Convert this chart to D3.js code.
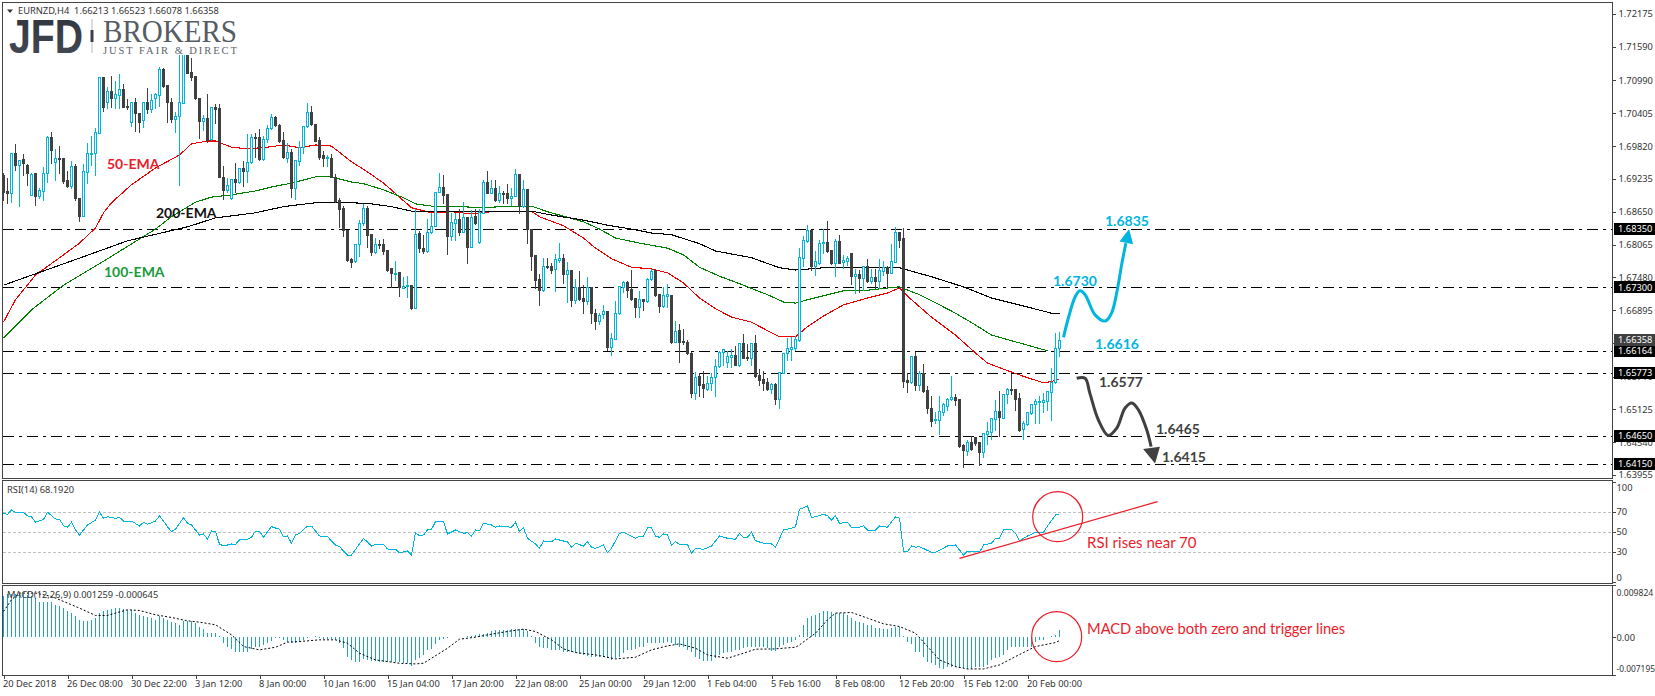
<!DOCTYPE html>
<html><head><meta charset="utf-8">
<script src="https://cdn.jsdelivr.net/npm/d3@7"></script>
<style>html,body{margin:0;padding:0;background:#fff;overflow:hidden}svg{display:block}</style>
</head><body><svg id="c" width="1655" height="696"></svg>
<script>
const open=[1.6931,1.6902,1.6898,1.6970,1.6948,1.6959,1.6948,1.6895,1.6934,1.6893,
1.6902,1.6934,1.6998,1.6954,1.6961,1.6961,1.6922,1.6911,1.6947,1.6889,
1.6857,1.6936,1.6968,1.6970,1.7005,1.7105,1.7061,1.7080,1.7068,1.7073,
1.7084,1.7054,1.7025,1.7061,1.7041,1.7029,1.7061,1.7048,1.7068,1.7073,
1.7119,1.7091,1.7061,1.7030,1.7036,1.7059,1.7153,1.7114,1.7107,1.7068,
1.7027,1.7032,1.6995,1.7052,1.7050,1.6927,1.6904,1.6889,1.6923,1.6918,
1.6943,1.6938,1.6954,1.6998,1.6998,1.6959,1.6995,1.7014,1.7034,1.7020,
1.6993,1.6961,1.6971,1.6907,1.6955,1.6980,1.7018,1.7043,1.7021,1.6993,
1.6966,1.6961,1.6961,1.6927,1.6886,1.6872,1.6832,1.6781,1.6777,1.6808,
1.6845,1.6872,1.6825,1.6793,1.6808,1.6808,1.6797,1.6765,1.6754,1.6758,
1.6729,1.6733,1.6734,1.6693,1.6827,1.6800,1.6795,1.6829,1.6840,1.6900,
1.6909,1.6897,1.6822,1.6845,1.6852,1.6829,1.6856,1.6802,1.6857,1.6811,
1.6863,1.6918,1.6898,1.6907,1.6886,1.6898,1.6898,1.6889,1.6893,1.6932,
1.6875,1.6905,1.6834,1.6788,1.6745,1.6725,1.6768,1.6768,1.6763,1.6779,
1.6783,1.6754,1.6761,1.6708,1.6731,1.6711,1.6706,1.6731,1.6684,1.6670,
1.6683,1.6688,1.6624,1.6638,1.6684,1.6731,1.6740,1.6727,1.6711,1.6695,
1.6709,1.6706,1.6745,1.6761,1.6718,1.6697,1.6715,1.6717,1.6633,1.6654,
1.6635,1.6633,1.6613,1.6542,1.6572,1.6558,1.6549,1.6560,1.6570,1.6590,
1.6615,1.6597,1.6606,1.6610,1.6592,1.6631,1.6606,1.6604,1.6631,1.6574,
1.6567,1.6561,1.6549,1.6558,1.6531,1.6577,1.6613,1.6620,1.6622,1.6636,
1.6783,1.6813,1.6832,1.6768,1.6774,1.6809,1.6811,1.6797,1.6774,1.6813,
1.6775,1.6777,1.6791,1.6750,1.6754,1.6747,1.6768,1.6741,1.6749,1.6741,
1.6759,1.6766,1.6756,1.6775,1.6829,1.6818,1.6565,1.6561,1.6608,1.6556,
1.6577,1.6547,1.6515,1.6494,1.6494,1.6508,1.6519,1.6531,1.6535,1.6531,
1.6449,1.6438,1.6454,1.6463,1.6454,1.6437,1.6469,1.6472,1.6495,1.6510,
1.6497,1.6540,1.6549,1.6549,1.6533,1.6478,1.6487,1.6506,1.6522,1.6526,
1.6526,1.6528,1.6544,1.6561,1.66213];
const high=[1.6936,1.6927,1.6972,1.6988,1.6959,1.6970,1.6952,1.6936,1.6936,1.6909,
1.6947,1.7002,1.7009,1.6979,1.6984,1.6961,1.6939,1.6957,1.6952,1.6891,
1.6952,1.6989,1.7002,1.7016,1.7107,1.7107,1.7089,1.7109,1.7100,1.7112,
1.7095,1.7068,1.7061,1.7070,1.7043,1.7061,1.7087,1.7077,1.7079,1.7125,
1.7123,1.7091,1.7070,1.7045,1.7146,1.7162,1.7157,1.7141,1.7109,1.7068,
1.7039,1.7077,1.7052,1.7059,1.7059,1.6948,1.6927,1.6925,1.6954,1.6943,
1.6957,1.7005,1.7005,1.7007,1.7014,1.7002,1.7021,1.7041,1.7037,1.7023,
1.7009,1.6989,1.6979,1.6959,1.6993,1.7020,1.7061,1.7055,1.7023,1.7000,
1.6975,1.6968,1.6970,1.6934,1.6891,1.6877,1.6832,1.6784,1.6808,1.6852,
1.6881,1.6877,1.6827,1.6820,1.6816,1.6818,1.6798,1.6766,1.6779,1.6759,
1.6750,1.6752,1.6734,1.6872,1.6832,1.6825,1.6854,1.6865,1.6900,1.6936,
1.6932,1.6898,1.6865,1.6865,1.6872,1.6884,1.6857,1.6870,1.6872,1.6872,
1.6923,1.6939,1.6923,1.6923,1.6913,1.6904,1.6916,1.6909,1.6943,1.6934,
1.6923,1.6907,1.6836,1.6788,1.6756,1.6784,1.6784,1.6775,1.6791,1.6811,
1.6791,1.6777,1.6763,1.6747,1.6761,1.6736,1.6750,1.6733,1.6693,1.6686,
1.6700,1.6690,1.6651,1.6708,1.6734,1.6743,1.6743,1.6763,1.6713,1.6725,
1.6711,1.6749,1.6765,1.6765,1.6718,1.6733,1.6738,1.6718,1.6672,1.6667,
1.6658,1.6638,1.6617,1.6581,1.6579,1.6583,1.6574,1.6579,1.6604,1.6619,
1.6622,1.6619,1.6622,1.6627,1.6633,1.6649,1.6631,1.6631,1.6647,1.6586,
1.6583,1.6570,1.6561,1.6561,1.6579,1.6615,1.6642,1.6643,1.6645,1.6802,
1.6824,1.6843,1.6832,1.6797,1.6816,1.6836,1.6850,1.6798,1.6818,1.6825,
1.6790,1.6788,1.6793,1.6765,1.6763,1.6770,1.6783,1.6765,1.6765,1.6783,
1.6779,1.6770,1.6809,1.6840,1.6829,1.6838,1.6579,1.6609,1.6617,1.6583,
1.6595,1.6556,1.6538,1.6510,1.6538,1.6526,1.6535,1.6574,1.6542,1.6533,
1.6453,1.6460,1.6467,1.6465,1.6454,1.6472,1.6492,1.6499,1.6531,1.6547,
1.6542,1.6552,1.6577,1.6549,1.6544,1.6494,1.6510,1.6524,1.6533,1.6538,
1.6544,1.6547,1.6588,1.6651,1.66523];
const low=[1.6886,1.6881,1.6882,1.6939,1.6875,1.6931,1.6913,1.6895,1.6877,1.6889,
1.6886,1.6918,1.6952,1.6922,1.6934,1.6916,1.6909,1.6907,1.6886,1.6848,
1.6857,1.6916,1.6948,1.6931,1.7005,1.7045,1.7050,1.7052,1.7050,1.7050,
1.7052,1.7048,1.7018,1.7009,1.7007,1.7016,1.7041,1.7043,1.7050,1.7054,
1.7087,1.7025,1.7025,1.7007,1.6913,1.7059,1.7112,1.7100,1.7066,1.6996,
1.7011,1.6989,1.6993,1.7023,1.6927,1.6888,1.6900,1.6888,1.6900,1.6916,
1.6911,1.6918,1.6952,1.6963,1.6957,1.6957,1.6989,1.7012,1.7018,1.6989,
1.6961,1.6954,1.6891,1.6888,1.6948,1.6970,1.7016,1.7020,1.6991,1.6959,
1.6947,1.6947,1.6927,1.6882,1.6838,1.6822,1.6777,1.6766,1.6775,1.6786,
1.6841,1.6802,1.6788,1.6791,1.6800,1.6790,1.6759,1.6731,1.6743,1.6715,
1.6729,1.6713,1.6692,1.6693,1.6793,1.6791,1.6793,1.6827,1.6840,1.6900,
1.6881,1.6790,1.6815,1.6815,1.6824,1.6829,1.6774,1.6802,1.6843,1.6809,
1.6863,1.6898,1.6898,1.6884,1.6882,1.6881,1.6881,1.6877,1.6893,1.6863,
1.6873,1.6809,1.6761,1.6729,1.6699,1.6724,1.6765,1.6756,1.6724,1.6775,
1.6738,1.6704,1.6697,1.6702,1.6708,1.6684,1.6701,1.6667,1.6656,1.6665,
1.6675,1.6619,1.6610,1.6638,1.6683,1.6722,1.6713,1.6708,1.6677,1.6677,
1.6690,1.6704,1.6743,1.6715,1.6686,1.6695,1.6695,1.6631,1.6633,1.6597,
1.6629,1.6611,1.6535,1.6531,1.6536,1.6535,1.6547,1.6547,1.6536,1.6588,
1.6592,1.6588,1.6588,1.6592,1.6590,1.6604,1.6601,1.6592,1.6570,1.6556,
1.6547,1.6547,1.6542,1.6522,1.6515,1.6577,1.6601,1.6601,1.6619,1.6635,
1.6768,1.6811,1.6761,1.6752,1.6772,1.6791,1.6793,1.6772,1.6750,1.6774,
1.6765,1.6770,1.6736,1.6720,1.6722,1.6725,1.6740,1.6738,1.6729,1.6729,
1.6752,1.6729,1.6756,1.6775,1.6802,1.6552,1.6544,1.6560,1.6547,1.6547,
1.6544,1.6506,1.6483,1.6488,1.6469,1.6503,1.6511,1.6529,1.6520,1.6446,
1.6410,1.6431,1.6440,1.6449,1.6413,1.6428,1.6451,1.6460,1.6476,1.6465,
1.6497,1.6524,1.6540,1.6511,1.6474,1.6460,1.6485,1.6504,1.6488,1.6488,
1.6508,1.6511,1.6494,1.6560,1.66078];
const close=[1.6900,1.6898,1.6970,1.6948,1.6957,1.6952,1.6934,1.6932,1.6893,1.6904,
1.6934,1.6998,1.6975,1.6961,1.6959,1.6920,1.6911,1.6947,1.6889,1.6857,
1.6938,1.6970,1.6970,1.7007,1.7105,1.7052,1.7080,1.7068,1.7075,1.7084,
1.7052,1.7052,1.7061,1.7041,1.7025,1.7061,1.7048,1.7064,1.7075,1.7119,
1.7089,1.7061,1.7030,1.7036,1.7061,1.7162,1.7112,1.7105,1.7068,1.7027,
1.7032,1.6993,1.7052,1.7048,1.6927,1.6904,1.6913,1.6923,1.6918,1.6943,
1.6938,1.6954,1.6998,1.6996,1.6959,1.6995,1.7014,1.7034,1.7020,1.6991,
1.6963,1.6971,1.6907,1.6957,1.6980,1.7018,1.7043,1.7021,1.6991,1.6963,
1.6961,1.6963,1.6927,1.6884,1.6870,1.6832,1.6779,1.6775,1.6808,1.6845,
1.6872,1.6824,1.6793,1.6808,1.6806,1.6795,1.6761,1.6756,1.6756,1.6731,
1.6733,1.6734,1.6693,1.6825,1.6800,1.6795,1.6829,1.6840,1.6900,1.6909,
1.6895,1.6822,1.6847,1.6852,1.6829,1.6856,1.6802,1.6856,1.6845,1.6865,
1.6918,1.6898,1.6907,1.6886,1.6898,1.6897,1.6889,1.6893,1.6932,1.6875,
1.6905,1.6834,1.6786,1.6743,1.6725,1.6768,1.6766,1.6761,1.6781,1.6783,
1.6754,1.6761,1.6708,1.6731,1.6709,1.6706,1.6731,1.6684,1.6670,1.6681,
1.6688,1.6624,1.6640,1.6684,1.6733,1.6740,1.6725,1.6709,1.6695,1.6709,
1.6706,1.6745,1.6759,1.6717,1.6697,1.6717,1.6718,1.6633,1.6652,1.6633,
1.6633,1.6613,1.6542,1.6570,1.6556,1.6551,1.6560,1.6570,1.6590,1.6615,
1.6620,1.6608,1.6610,1.6592,1.6631,1.6604,1.6604,1.6631,1.6572,1.6565,
1.6560,1.6549,1.6558,1.6531,1.6579,1.6613,1.6622,1.6624,1.6638,1.6784,
1.6815,1.6832,1.6768,1.6777,1.6809,1.6811,1.6795,1.6774,1.6813,1.6774,
1.6779,1.6783,1.6750,1.6754,1.6747,1.6768,1.6741,1.6749,1.6741,1.6761,
1.6766,1.6756,1.6777,1.6829,1.6815,1.6563,1.6561,1.6608,1.6556,1.6577,
1.6545,1.6515,1.6492,1.6496,1.6510,1.6522,1.6531,1.6535,1.6529,1.6447,
1.6440,1.6454,1.6442,1.6453,1.6437,1.6470,1.6474,1.6497,1.6510,1.6499,
1.6540,1.6549,1.6547,1.6531,1.6476,1.6488,1.6508,1.6522,1.6528,1.6528,
1.6529,1.6545,1.6561,1.6622,1.66358];

const ema50Bars=[0,3,8,15,19,23,25,27,32,38,44,47,51,53,57,61,66,70,74,78,82,87,91,95,99,102,107,112,117,122,128,132,134,140,145,148,152,157,162,166,170,174,178,182,187,192,194,198,201,205,210,216,221,224,227,232,238,243,246,252,256,260,262,264];
const ema50=[1.6668,1.6708,1.6752,1.6788,1.6809,1.6836,1.6863,1.6881,1.6913,1.6943,1.6966,1.6986,1.6991,1.6991,1.6980,1.6977,1.6980,1.6984,1.6979,1.6984,1.6982,1.6954,1.6936,1.6916,1.6891,1.6872,1.6863,1.6865,1.6861,1.6865,1.6866,1.6866,1.6856,1.6840,1.6818,1.6800,1.6781,1.6766,1.6763,1.6756,1.6738,1.6711,1.6692,1.6677,1.6668,1.6649,1.6642,1.6642,1.6660,1.6679,1.6699,1.6711,1.6720,1.6729,1.6708,1.6677,1.6645,1.6613,1.6595,1.6579,1.6569,1.6560,1.6562,1.6567];
const ema100Bars=[0,7,15,26,38,42,48,52,57,63,67,72,78,82,87,90,95,100,103,107,112,117,122,127,132,136,140,145,149,153,159,166,170,174,179,185,191,195,198,201,206,210,216,221,224,229,234,238,243,247,253,261];
const ema100=[1.6640,1.6690,1.6734,1.6781,1.6834,1.6856,1.6882,1.6891,1.6895,1.6902,1.6909,1.6916,1.6927,1.6927,1.6918,1.6915,1.6904,1.6890,1.6879,1.6875,1.6875,1.6873,1.6873,1.6875,1.6875,1.6865,1.6857,1.6847,1.6834,1.6818,1.6809,1.6800,1.6788,1.6766,1.6750,1.6734,1.6717,1.6704,1.6702,1.6708,1.6717,1.6724,1.6725,1.6729,1.6731,1.6717,1.6699,1.6684,1.6663,1.6645,1.6633,1.6617];
const ema200Bars=[0,15,31,46,53,63,70,78,82,87,92,97,102,112,124,132,137,145,151,157,162,167,174,178,187,194,198,205,216,224,232,240,247,256,262,264];
const ema200=[1.6734,1.6772,1.6813,1.6838,1.6854,1.6863,1.6874,1.6881,1.6882,1.6881,1.6879,1.6874,1.6866,1.6866,1.6865,1.6866,1.6859,1.6850,1.6841,1.6834,1.6827,1.6824,1.6808,1.6795,1.6783,1.6765,1.6761,1.6765,1.6765,1.6765,1.6749,1.6731,1.6711,1.6695,1.6684,1.6683];

const rsiBars=[0,1,2,3,5,6,7,8,10,11,13,14,15,16,17,18,19,21,23,24,25,26,28,29,30,32,34,35,36,38,39,41,42,43,45,46,47,49,50,51,52,53,54,55,57,58,59,61,62,63,64,65,66,67,69,70,71,72,73,74,76,77,79,81,83,84,86,87,90,92,93,95,96,98,99,
101,102,103,104,105,106,107,108,110,111,113,114,115,116,117,118,119,120,122,123,124,127,128,129,130,131,133,134,135,137,138,140,141,142,143,145,146,147,148,150,151,152,154,155,158,159,160,161,162,163,164,165,166,167,168,169,171,172,173,175,177,179,181,183,184,185,186,187,188,190,192,193,195,197,198,199,
201,202,203,205,206,207,208,209,211,212,214,215,216,218,219,221,223,224,225,226,227,228,229,232,233,236,238,240,241,243,244,245,247,248,249,250,252,253,254,256,258,260,261,263,264];
const rsiValues=[68.7,67.7,72,69.7,69.7,66,65.3,59.7,62.7,69.7,63,62.7,56.3,54.7,59.7,52,47,57,62,69.7,63.7,65.3,63.7,64.7,61,61,56,59.7,57.7,61,66.3,55.3,50.3,52.7,64.3,58.7,57,47,48,42.7,51,50.3,38,36,38,37.7,42,42.7,44.7,51,51,44.7,50.3,55.3,52.7,45.3,46,38.7,47,48.7,56,56,46,45.3,37,35.3,27,27,43.7,36,37.7,37.7,33,32.7,29.3,
31,27,49.3,46.3,47,52,52.7,60.3,60.3,48,52,50.3,48.7,49.3,46,52,51.3,58.7,57,54.7,56,54.7,59.7,50.3,54.3,43.7,38,33.7,41,40.3,43,41,40.3,34.7,38.7,36,40.3,34.7,33.7,37,29.3,33.7,48.7,49.7,43.7,46,46,54.3,54.3,46,44.7,48,47,37,40.3,37.7,37.7,28.7,33.7,32.7,36,46,43.7,42.7,48.7,44.7,44.7,49.7,41.3,38.7,38,34.7,52,53.7,55.3,72.7,
76,64.3,65.3,67.7,66.3,62,66.3,58.7,59.7,54.7,54.7,56.3,52,52,56,54.7,65.3,63.7,31,30.3,36,34.7,35.3,29.7,29.7,36,37,27,31,31,29.7,37,38.7,43.7,43.7,52,52.7,48.7,41.3,46,49.7,49.7,56,67,68.19];
const rsiLevels=[70,50,30];

const macdHist=[.0078,.00818,.00818,.00818,.00818,.00818,.00799,.0078,.00736,.0066,
.0066,.00667,.00667,.0061,.00579,.00547,.00484,.00453,.0039,.00315,
.00308,.00308,.00327,.00359,.00453,.00484,.00516,.00528,.00547,.00554,
.00528,.00503,.00503,.00453,.00409,.00396,.00371,.00359,.00327,.0039,
.00359,.00327,.00283,.00264,.00233,.00296,.00308,.00296,.00264,.00189,
.00151,.00088,.00088,.00075,.00013,-.00113,-.00176,-.0022,-.0027,-.0027,
-.0027,-.0027,-.0022,-.00176,-.00176,-.00145,-.00113,-.00069,-.00019,-.00019,
-.0005,-.00082,-.00113,-.00113,-.00082,-.0005,-.00006,.00006,.00013,-.00019,
-.00031,-.00038,-.00038,-.0005,-.00113,-.00208,-.00365,-.00428,-.00459,-.00459,
-.00415,-.00428,-.0044,-.0044,-.00459,-.00459,-.00459,-.00459,-.00472,-.00472,
-.00491,-.00491,-.00535,-.00428,-.00396,-.00333,-.00239,-.0022,-.00126,-.0005,
-.00038,-.00006,0,0,0,.00006,.00013,.00025,.00038,.00057,
.00063,.00088,.00107,.00138,.00138,.00138,.00138,.00151,.00157,.00157,
.00151,.00107,.00013,-.00113,-.00176,-.00208,-.00208,-.00239,-.00239,-.00239,
-.0027,-.0027,-.0027,-.00302,-.00315,-.00333,-.00346,-.00365,-.00365,-.00365,
-.00365,-.00396,-.00428,-.00396,-.00365,-.00302,-.00239,-.00239,-.00226,-.00189,
-.00176,-.00113,-.00113,-.00113,-.00101,-.00101,-.00082,-.00113,-.00145,-.00176,
-.00176,-.00239,-.0027,-.00365,-.00415,-.0044,-.0044,-.0044,-.00396,-.00333,
-.00302,-.0027,-.0027,-.00239,-.00239,-.00208,-.00176,-.00176,-.00189,-.00176,
-.00176,-.00208,-.00252,-.00252,-.00189,-.00145,-.00113,-.00082,-.0005,.00044,
.0022,.00359,.0039,.00409,.00453,.00484,.00497,.00472,.00453,.00453,
.00453,.00421,.00359,.00296,.00283,.00264,.00233,.0022,.00182,.0017,
.00157,.00157,.00182,.00201,.00201,.00013,-.00082,-.00126,-.0027,-.0027,
-.00365,-.00459,-.00491,-.00522,-.00585,-.00598,-.00554,-.00554,-.00554,-.00585,
-.00585,-.00598,-.00598,-.00554,-.00554,-.00554,-.00522,-.00428,-.00396,-.00365,
-.00333,-.00239,-.00176,-.00176,-.00176,-.00176,-.00176,-.00176,-.00082,-.0005,
-.0005,0,.00013,.00044,.00126];
const signalBars=[0,2,4,8,12,16,19,23,26,28,31,34,38,42,46,49,53,57,60,64,68,71,74,79,83,86,89,93,96,99,103,105,107,111,114,118,121,126,130,133,137,140,143,148,153,158,162,166,169,173,176,181,185,188,193,198,199,203,206,208,212,216,220,224,228,231,234,238,241,245,249,253,258,263,264];
const signalValues=[.00484,.00704,.0083,.0083,.00767,.00642,.00547,.00409,.00409,.00453,.00516,.00503,.00421,.00371,.00308,.00283,.00233,.00044,-.00176,-.00239,-.00189,-.00094,-.00082,-.0005,-.0005,-.00113,-.00302,-.00428,-.00459,-.00491,-.00503,-.00491,-.00396,-.00208,-.00038,0,.00044,.00107,.00151,.00107,-.0005,-.0022,-.00289,-.00333,-.00409,-.00377,-.00239,-.00164,-.00126,-.00208,-.00333,-.00396,-.00302,-.00226,-.0022,-.00189,-.00145,.00075,.00327,.00453,.00465,.00359,.00252,.00201,.00075,-.00176,-.00428,-.00554,-.00598,-.00598,-.00522,-.00365,-.00176,-.00101,-.000645];

const levels=[1.6835,1.6730,1.66164,1.65773,1.6465,1.6415];
const priceTicks=[1.72175,1.7159,1.7099,1.70405,1.6982,1.69235,1.6865,1.68065,1.6748,1.66895,1.6631,1.6571,1.65125,1.6454,1.63955];
const lastPrice=1.66358;
const timeBars=[0,16,32,48,64,80,96,112,128,144,160,176,192,208,224,240,256];
const timeLabels=["20 Dec 2018","26 Dec 08:00","30 Dec 22:00","3 Jan 12:00","8 Jan 00:00","10 Jan 16:00","15 Jan 04:00","17 Jan 20:00","22 Jan 08:00","25 Jan 00:00","29 Jan 12:00","1 Feb 04:00","5 Feb 16:00","8 Feb 08:00","12 Feb 20:00","15 Feb 12:00","20 Feb 00:00"];

const upArrowBars=[265,266.2,267.9,269.1,270.4,272.9,275.4,277,278.3,279.6,280.6];
const upArrowPrices=[1.6641,1.6675,1.6713,1.6724,1.6717,1.6681,1.6670,1.6684,1.6720,1.6773,1.6809];
const upHeadBars=[281.4,279,282.4];
const upHeadPrices=[1.6834,1.6812,1.6807];
const downArrowBars=[268.3,270.4,271.6,273.7,276.2,278.3,280.4,282.1,283.7,285.8,286.9];
const downArrowPrices=[1.6568,1.6568,1.6541,1.6494,1.6466,1.6479,1.6515,1.6524,1.6512,1.6476,1.6446];
const downHeadBars=[287.9,284.9,289.1];
const downHeadPrices=[1.6416,1.6442,1.6446];
const rsiTrendBars=[239,288.5];
const rsiTrendValues=[23.7,80.3];

const FONT='"Noto Sans",sans-serif', ANN='Lato,sans-serif';
const CYAN='#00b5de', DARK='#404040', RED='#ec1c2a', BORDER='#444';
const L=3,R=1612;
const x=d3.scaleLinear().domain([0,264]).range([3.5,1059.5]);
const y=d3.scaleLinear().domain([1.72175,1.63955]).range([14,475]);
const yR=d3.scaleLinear().domain([100,0]).range([482,582]);
const yM=d3.scaleLinear().domain([0.009824,-0.007195]).range([585,675.4]);
const px=v=>Math.round(v)+.5;
const svg=d3.select('#c');
svg.append('rect').attr('width',1655).attr('height',696).attr('fill','#fff');

// levels
svg.append('g').selectAll('line').data(levels).join('line')
 .attr('x1',L).attr('x2',R).attr('y1',d=>px(y(d))).attr('y2',d=>px(y(d)))
 .attr('stroke','#000').attr('stroke-width',1).attr('stroke-dasharray','11,5,3,5').attr('shape-rendering','crispEdges');

// EMAs
const lineOf=(bars,vals,sc,curve)=>{const l=d3.line().x((d,i)=>x(bars[i])).y(d=>sc(d));if(curve)l.curve(curve);return l(vals);};
[[ema50Bars,ema50,'#f00000'],[ema100Bars,ema100,'#008000'],[ema200Bars,ema200,'#000']].forEach(([b,v,c])=>{
 svg.append('path').attr('d',lineOf(b,v,y)).attr('fill','none').attr('stroke',c).attr('stroke-width',1.1).attr('shape-rendering','crispEdges');
});

// candles
const idx=d3.range(open.length);
const cg=svg.append('g').attr('shape-rendering','crispEdges');
cg.selectAll('line').data(idx).join('line')
 .attr('x1',i=>x(i)).attr('x2',i=>x(i)).attr('y1',i=>px(y(high[i]))).attr('y2',i=>px(y(low[i]))+.5)
 .attr('stroke',i=>close[i]>=open[i]?CYAN:DARK).attr('stroke-width',1);
cg.selectAll('rect').data(idx).join('rect')
 .attr('x',i=>x(i)-1).attr('width',2)
 .attr('y',i=>px(y(Math.max(open[i],close[i]))))
 .attr('height',i=>Math.max(1,px(y(Math.min(open[i],close[i])))-px(y(Math.max(open[i],close[i])))))
 .attr('fill',i=>close[i]>=open[i]?'#fff':DARK)
 .attr('stroke',i=>close[i]>=open[i]?CYAN:DARK).attr('stroke-width',1);

// logo
const logo=svg.append('g');
logo.append('rect').attr('x',4).attr('y',17).attr('width',236).attr('height',38).attr('fill','#fff');
const grad=svg.append('defs').append('linearGradient').attr('id','jfd').attr('x1',0).attr('y1',0).attr('x2',0).attr('y2',1);
grad.append('stop').attr('offset','0%').attr('stop-color','#2e343c');
grad.append('stop').attr('offset','100%').attr('stop-color','#454c56');
logo.append('text').attr('x',9).attr('y',53).attr('font-family','"Liberation Sans",sans-serif').attr('font-weight',700).attr('font-size',48)
 .attr('textLength',74).attr('lengthAdjust','spacingAndGlyphs').attr('fill','url(#jfd)').text('JFD');
logo.append('rect').attr('x',91.5).attr('y',19).attr('width',1).attr('height',34).attr('fill','#bbb');
logo.append('rect').attr('x',90.5).attr('y',30).attr('width',3).attr('height',12).attr('fill','#3c4249');
logo.append('text').attr('x',103).attr('y',42).attr('font-family','"Liberation Serif",serif').attr('font-size',32)
 .attr('textLength',134).attr('lengthAdjust','spacingAndGlyphs').attr('fill','#555c64').text('BROKERS');
logo.append('text').attr('x',103).attr('y',53.5).attr('font-family','"Liberation Serif",serif').attr('font-size',10.5)
 .attr('textLength',134).attr('fill','#5c636b').text('JUST FAIR & DIRECT');

// header
svg.append('path').attr('d','M7,9.5H13L10,13Z').attr('fill','#333');
svg.append('text').attr('x',18).attr('y',14).attr('font-family',FONT).attr('font-size',9.3).attr('fill','#333').attr('xml:space','preserve').text('EURNZD,H4  1.66213 1.66523 1.66078 1.66358');

// RSI
const rg=svg.append('g');
rg.selectAll('line').data(rsiLevels).join('line').attr('x1',L).attr('x2',R).attr('y1',d=>px(yR(d))).attr('y2',d=>px(yR(d)))
 .attr('stroke','#c0c0c0').attr('stroke-dasharray','3,2').attr('shape-rendering','crispEdges');
rg.append('path').attr('d',lineOf(rsiBars,rsiValues,yR)).attr('fill','none').attr('stroke',CYAN).attr('stroke-width',1).attr('shape-rendering','crispEdges');

// MACD
const mg=svg.append('g').attr('shape-rendering','crispEdges');
mg.selectAll('line').data(macdHist).join('line').attr('x1',(d,i)=>x(i)).attr('x2',(d,i)=>x(i))
 .attr('y1',yM(0)).attr('y2',d=>yM(d)).attr('stroke','#1ea3c9').attr('stroke-width',1);
svg.append('path').attr('d',lineOf(signalBars,signalValues,yM)).attr('fill','none').attr('stroke','#000').attr('stroke-width',1).attr('stroke-dasharray','2,2');

// indicator captions
svg.append('text').attr('x',7).attr('y',492.5).attr('font-family',FONT).attr('font-size',9.3).attr('fill','#333').text('RSI(14) 68.1920');
svg.append('text').attr('x',7).attr('y',597.5).attr('font-family',FONT).attr('font-size',9.3).attr('fill','#333').text('MACD(12,26,9) 0.001259 -0.000645');

// panel borders
[[2.5,2.5,478.5],[2.5,480.5,583.5],[2.5,585.5,675.5]].forEach(([a,t,b])=>{
 svg.append('rect').attr('x',a).attr('y',t).attr('width',R-a+.5).attr('height',b-t).attr('fill','none').attr('stroke',BORDER).attr('shape-rendering','crispEdges');
});

// axes
const styleAxis=g=>{g.attr('font-family',FONT).attr('font-size',9.3);g.select('.domain').remove();g.selectAll('line').attr('stroke',BORDER).attr('shape-rendering','crispEdges');g.selectAll('text').attr('fill','#333');};
svg.append('g').attr('transform','translate(1612.5,0)').call(d3.axisRight(y).tickValues(priceTicks).tickSize(3).tickPadding(3).tickFormat(d3.format('.5f'))).call(styleAxis);
svg.append('g').attr('transform','translate(1612.5,0)').call(d3.axisRight(yR).tickValues([100,70,50,30,0]).tickSize(3).tickPadding(1).tickFormat(d3.format('d'))).call(styleAxis)
 .call(g=>{g.selectAll('.tick').filter(d=>d===100).select('text').attr('y',0).attr('dy','8px');g.selectAll('.tick').filter(d=>d===0).select('text').attr('dy','-2px');});
svg.append('g').attr('transform','translate(1612.5,0)').call(d3.axisRight(yM).tickValues([0.009824,0,-0.007195]).tickSize(3).tickPadding(1).tickFormat(d=>d===0?'0.00':d.toFixed(6))).call(styleAxis)
 .call(g=>{g.selectAll('.tick').filter(d=>d>0).select('text').attr('dy','10px').attr('font-size',8.6);g.selectAll('.tick').filter(d=>d<0).select('text').attr('dy','-4px').attr('font-size',8.4);});
svg.append('g').attr('transform','translate(0,675.5)').call(d3.axisBottom(x).tickValues(timeBars).tickSize(3).tickPadding(2).tickFormat((d,i)=>timeLabels[i])).call(styleAxis)
 .call(g=>{g.selectAll('text').attr('text-anchor','start').attr('x',-1);});

// price tags
const tags=[...levels.map(v=>({v,c:'#000'})),{v:lastPrice,c:'#404040'}].sort((a,b)=>(a.c==='#404040')-(b.c==='#404040'));
const tg=svg.append('g');
tags.forEach(t=>{
 tg.append('rect').attr('x',1614).attr('y',px(y(t.v))-6.5).attr('width',41).attr('height',12).attr('fill',t.c).attr('shape-rendering','crispEdges');
});
tags.forEach(t=>{
 tg.append('text').attr('x',1618).attr('y',y(t.v)+3.2).attr('font-family',FONT).attr('font-size',9.3).attr('fill','#fff').text(t.v.toFixed(5));
});

// analysis marks
const curve=d3.curveCatmullRom;
svg.append('path').attr('d',lineOf(upArrowBars,upArrowPrices,y,curve)).attr('fill','none').attr('stroke',CYAN).attr('stroke-width',3);
svg.append('path').attr('d',lineOf(upHeadBars,upHeadPrices,y)+'Z').attr('fill',CYAN);
svg.append('path').attr('d',lineOf(downArrowBars,downArrowPrices,y,curve)).attr('fill','none').attr('stroke',DARK).attr('stroke-width',3);
svg.append('path').attr('d',lineOf(downHeadBars,downHeadPrices,y)+'Z').attr('fill',DARK);
svg.append('path').attr('d',lineOf(rsiTrendBars,rsiTrendValues,yR)).attr('stroke',RED).attr('stroke-width',1.2).attr('fill','none');
svg.append('circle').attr('cx',1057.7).attr('cy',516.7).attr('r',25).attr('fill','none').attr('stroke',RED).attr('stroke-width',1.2);
svg.append('circle').attr('cx',1056.7).attr('cy',636.7).attr('r',25).attr('fill','none').attr('stroke',RED).attr('stroke-width',1.2);

const ann=(t,x0,yc,c,fs,w)=>svg.append('text').attr('x',x0).attr('y',yc).attr('dy','.35em').attr('font-family',ANN).attr('font-size',fs).attr('font-weight',w).attr('fill',c).text(t);
ann('1.6835',1105,221,CYAN,14,700);
ann('1.6730',1053,281,CYAN,14,700);
ann('1.6616',1095,344,CYAN,14,700);
ann('1.6577',1099,382,DARK,14,700);
ann('1.6465',1156,429,DARK,14,700);
ann('1.6415',1162,457,DARK,14,700);
ann('50-EMA',107,164,RED,14,700);
ann('200-EMA',156,213,'#111',14,700);
ann('100-EMA',104,272,'#1a9a3a',14,700);
ann('RSI rises near 70',1087,543,RED,15,400);
ann('MACD above both zero and trigger lines',1087,629,RED,14.7,400);
</script></body></html>
